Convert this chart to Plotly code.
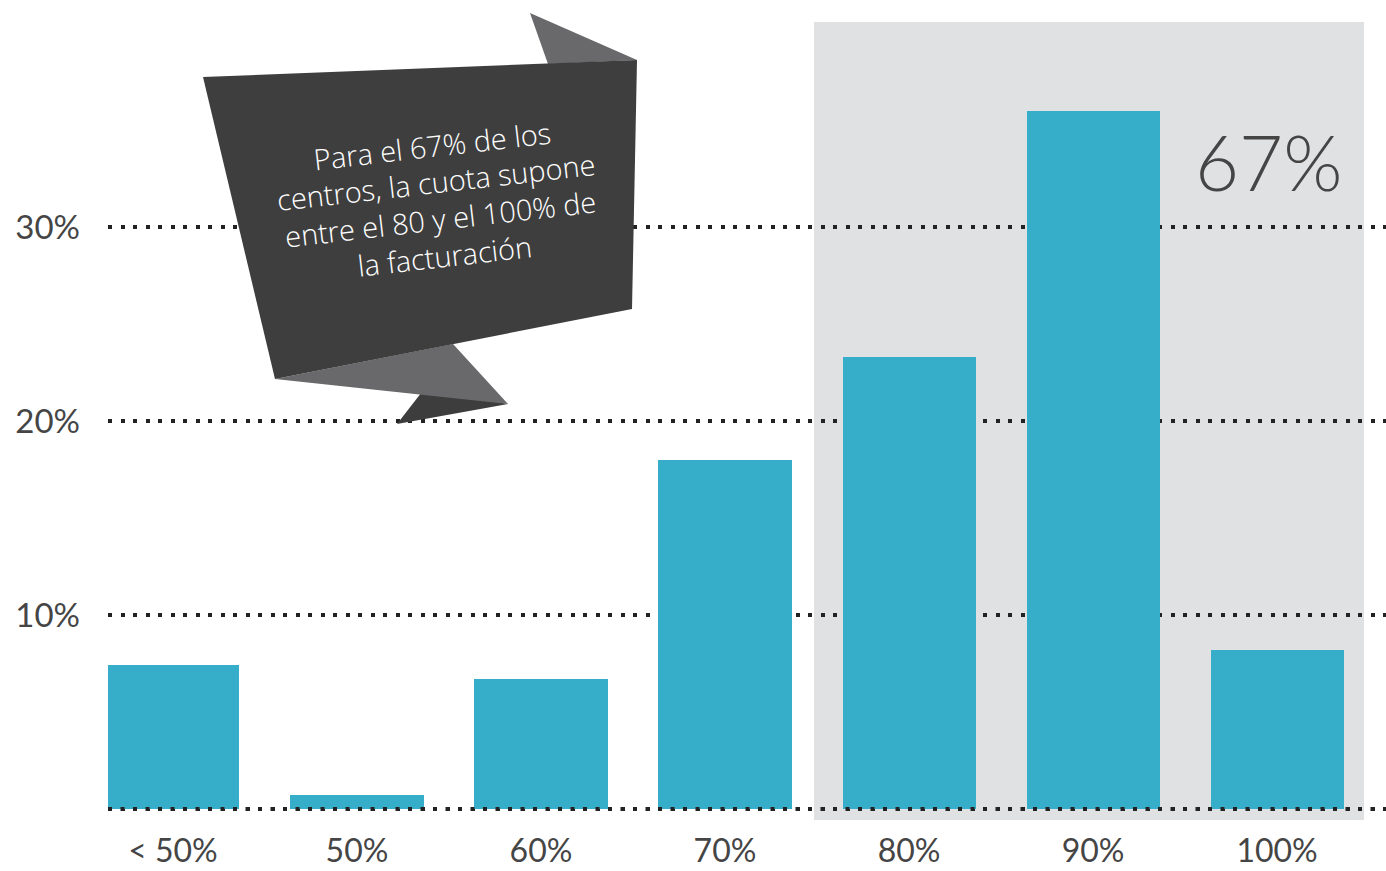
import math
import plotly.graph_objects as go

# ---- data ----
categories = ["< 50%", "50%", "60%", "70%", "80%", "90%", "100%"]
values = [7.4, 0.7, 6.7, 18.0, 23.3, 36.0, 8.2]
y_tickvals = [0, 10, 20, 30]
y_ticktext = ["", "10%", "20%", "30%"]
banner_lines = ["Para el 67% de los", "centros, la cuota supone", "entre el 80 y el 100% de", "la facturación"]
highlight_text = "67%"

BAR_COLOR = "#36aec9"
TEXT_COLOR = "#454545"
FONT = "Lato"

# plot area in pixels (for decorative shapes)
PL, PR, PT, PB = 108, 1386, 0, 820
W, H = PR - PL, PB - PT


def px(x):
    return (x - PL) / W


def py(y):
    return (PB - y) / H


def path(pts):
    return "M " + " L ".join(f"{px(x):.5f},{py(y):.5f}" for x, y in pts) + " Z"


fig = go.Figure()
fig.add_trace(go.Bar(
    x=categories, y=values, marker=dict(color=BAR_COLOR, line=dict(width=0)),
    width=0.723, hoverinfo="skip",
))

DOT = "4px,8.5px"
shapes = [
    # highlight background
    dict(type="rect", xref="paper", yref="paper", x0=px(814), x1=px(1364), y0=py(820), y1=py(22),
         fillcolor="#e0e1e3", line=dict(width=0), layer="below"),
    # baseline dotted line over bars
    dict(type="line", xref="paper", yref="y", x0=0, x1=1, y0=0, y1=0,
         line=dict(color="#222222", width=4, dash=DOT), layer="above"),
    # banner: dark bottom tail
    dict(type="path", xref="paper", yref="paper", path=path([(397, 424), (425, 388), (508, 404)]),
         fillcolor="#3d3d3d", line=dict(width=0), layer="above"),
    # banner: light bottom flap
    dict(type="path", xref="paper", yref="paper", path=path([(275, 379), (508, 404), (453, 344)]),
         fillcolor="#69696b", line=dict(width=0), layer="above"),
    # banner: light top flap
    dict(type="path", xref="paper", yref="paper", path=path([(530, 13), (637, 60), (548, 64)]),
         fillcolor="#69696b", line=dict(width=0), layer="above"),
    # banner: main body
    dict(type="path", xref="paper", yref="paper", path=path([(203, 77), (637, 60), (632, 309), (275, 379)]),
         fillcolor="#3e3e3e", line=dict(width=0), layer="above"),
]

annotations = []
ANG = 6.5
cx0, cy0, step = 432, 145, 37
for i, line in enumerate(banner_lines):
    cx = cx0 + i * step * math.sin(math.radians(ANG))
    cy = cy0 + i * step * math.cos(math.radians(ANG))
    annotations.append(dict(
        xref="paper", yref="paper", x=px(cx), y=py(cy), text=line, showarrow=False,
        xanchor="center", yanchor="middle", textangle=-ANG,
        font=dict(family="Open Sans", size=29, color="#ffffff", weight=300)))

annotations.append(dict(
    xref="paper", yref="paper", x=px(1268), y=py(162), text=highlight_text, showarrow=False,
    xanchor="center", yanchor="middle",
    font=dict(family=FONT, size=76, color=TEXT_COLOR, weight=300)))

fig.update_layout(
    width=1386, height=871,
    margin=dict(l=PL, r=1386 - PR, t=PT, b=871 - PB, pad=0, autoexpand=False),
    paper_bgcolor="#ffffff", plot_bgcolor="rgba(0,0,0,0)",
    showlegend=False, bargap=0,
    shapes=shapes, annotations=annotations,
    font=dict(family=FONT, color=TEXT_COLOR),
)
fig.update_xaxes(
    range=[-0.353, 6.592], showgrid=False, zeroline=False, showline=False, ticks="",
    tickfont=dict(family=FONT, size=32, color=TEXT_COLOR, weight=400), ticklabelstandoff=9,
    fixedrange=True, automargin=False,
)
fig.update_yaxes(
    range=[-0.567, 41.70], tickvals=y_tickvals, ticktext=y_ticktext,
    showgrid=True, gridcolor="#222222", gridwidth=4, griddash=DOT,
    zeroline=False, showline=False, ticks="",
    tickfont=dict(family=FONT, size=33, color=TEXT_COLOR, weight=400), ticklabelstandoff=27,
    fixedrange=True, automargin=False,
)

fig.write_html(
    "out.html", config={"displayModeBar": False},
    post_script="document.body.style.margin='0';document.body.style.padding='0';",
)
